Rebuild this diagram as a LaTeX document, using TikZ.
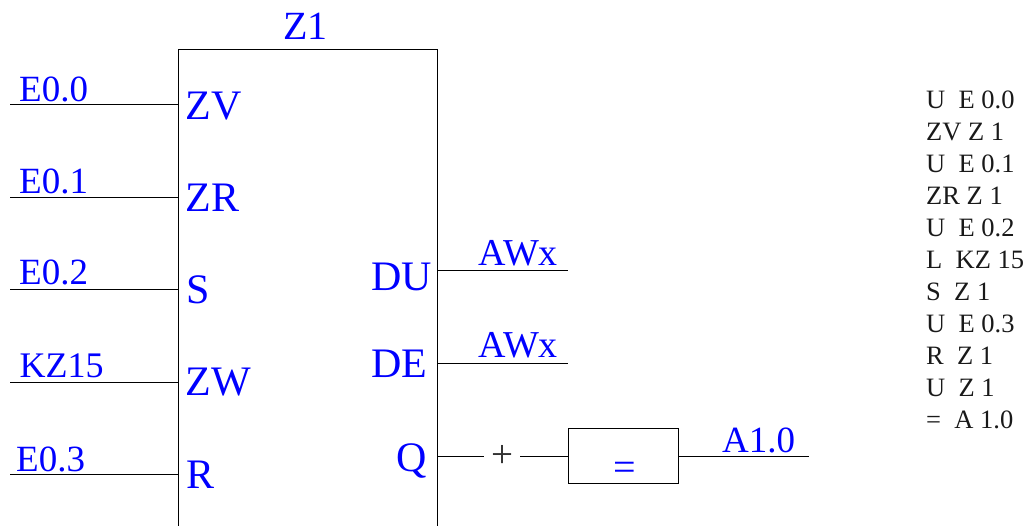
\documentclass[tikz,border=0pt]{standalone}
\usepackage{fontspec}
\setmainfont{Liberation Serif}
\tikzset{
  wire/.style={draw=black,line width=0.9pt},
  sig/.style={anchor=base west,inner sep=0pt,text=blue,font=\fontsize{37}{37}\selectfont},
  pin/.style={anchor=base west,inner sep=0pt,text=blue,font=\fontsize{42}{42}\selectfont},
  stl/.style={anchor=base west,inner sep=0pt,text=black!90,font=\fontsize{26.5}{26.5}\selectfont},
  contact/.style={inner sep=0pt,minimum width=36pt,minimum height=24pt,text=black!80,font=\fontsize{39}{39}\selectfont},
  outbox/.style={draw=black,line width=0.9pt,minimum width=110pt,minimum height=55pt,inner sep=0pt,anchor=north west}
}
\begin{document}
\begin{tikzpicture}[x=1pt,y=-1pt]
\useasboundingbox (0,0) rectangle (1029,526);
% block outline, open at the lower edge of the picture
\coordinate (bl) at (178,527);
\coordinate (tl) at (178,49);
\coordinate (tr) at (437,49);
\coordinate (br) at (437,527);
\draw[wire] (bl) -- (tl) -- (tr) -- (br);
\node[pin,font=\fontsize{40}{40}\selectfont] (title) at (283,40) {Z1};
% inputs
\coordinate (i1s) at (10,104);  \coordinate (i1) at (178,104);
\coordinate (i2s) at (10,197);  \coordinate (i2) at (178,197);
\coordinate (i3s) at (10,289);  \coordinate (i3) at (178,289);
\coordinate (i4s) at (10,382);  \coordinate (i4) at (178,382);
\coordinate (i5s) at (10,474);  \coordinate (i5) at (178,474);
\draw[wire] (i1s) -- (i1);
\draw[wire] (i2s) -- (i2);
\draw[wire] (i3s) -- (i3);
\draw[wire] (i4s) -- (i4);
\draw[wire] (i5s) -- (i5);
\node[sig] (le0) at (19,102) {E0.0};
\node[sig] (le1) at (19,194) {E0.1};
\node[sig] (le2) at (19,285) {E0.2};
\node[sig,font=\fontsize{36}{36}\selectfont] (lkz) at (19.5,378) {KZ15};
\node[sig] (le3) at (16,471.5) {E0.3};
\node[pin] (pzv) at (185.5,120) {ZV};
\node[pin] (pzr) at (185.5,212) {ZR};
\node[pin] (ps)  at (186,304) {S};
\node[pin] (pzw) at (185.5,396) {ZW};
\node[pin] (pr)  at (186,489) {R};
\node[pin] (pdu) at (371,291) {DU};
\node[pin] (pde) at (371,378) {DE};
\node[pin] (pq)  at (396,472) {Q};
% outputs
\coordinate (o1) at (437,270.5); \coordinate (o1e) at (568,270.5);
\coordinate (o2) at (437,363.5); \coordinate (o2e) at (568,363.5);
\draw[wire] (o1) -- (o1e);
\draw[wire] (o2) -- (o2e);
\node[sig,font=\fontsize{38}{38}\selectfont] (law1) at (478.5,265.5) {AWx};
\node[sig,font=\fontsize{38}{38}\selectfont] (law2) at (478.5,358) {AWx};
\coordinate (o3) at (437,456);
\node[contact] (plus) at (502,456) {\raisebox{-2pt}{+}};
\node[outbox] (assign) at (568,428) {};
\node[anchor=center,inner sep=0pt,text=blue,font=\fontsize{40}{40}\selectfont] (eq) at (625,471) {=};
\coordinate (o4) at (809,456);
\coordinate (asgr) at (678,456);
\coordinate (asgl) at (568,456);
\draw[wire] (o3) -- (plus);
\draw[wire] (plus) -- (asgl);
\draw[wire] (asgr) -- (o4);
\node[sig] (la1) at (722,452.5) {A1.0};
% statement list
\node[stl] (s1)  at (926,109) {U\ \ E 0.0};
\node[stl] (s2)  at (926,141) {ZV Z 1};
\node[stl] (s3)  at (926,173) {U\ \ E 0.1};
\node[stl] (s4)  at (926,205) {ZR Z 1};
\node[stl] (s5)  at (926,237) {U\ \ E 0.2};
\node[stl] (s6)  at (926,269) {L\ \ KZ 15};
\node[stl] (s7)  at (926,301) {S\ \ Z 1};
\node[stl] (s8)  at (926,333) {U\ \ E 0.3};
\node[stl] (s9)  at (926,365) {R\ \ Z 1};
\node[stl] (s10) at (926,397) {U\ \ Z 1};
\node[stl] (s11) at (926,429) {=\ \ A 1.0};
\end{tikzpicture}
\end{document}
